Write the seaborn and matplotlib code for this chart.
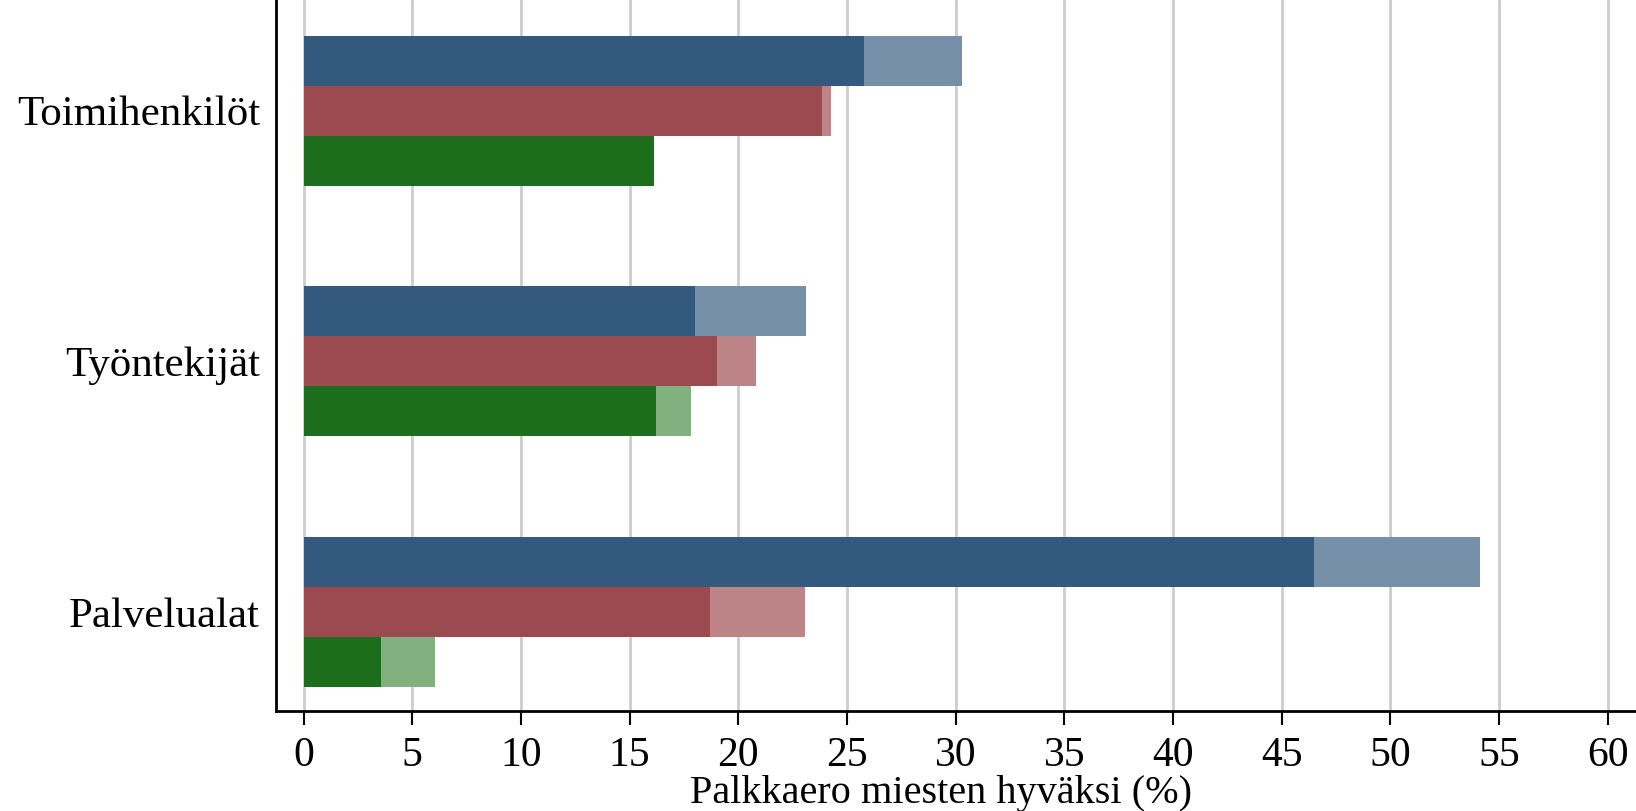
import matplotlib
matplotlib.use("Agg")
import matplotlib.pyplot as plt
import seaborn as sns
import pandas as pd

categories = ["Toimihenkilöt", "Työntekijät", "Palvelualat"]
series = ["Sarja 1", "Sarja 2", "Sarja 3"]
# dark part (first value) per category, per series
dark_s1 = [25.8, 18.0, 46.5]
dark_s2 = [23.85, 19.0, 18.7]
dark_s3 = [16.1, 16.2, 3.55]
# total length including lighter extension
total_s1 = [30.3, 23.1, 54.1]
total_s2 = [24.25, 20.8, 23.05]
total_s3 = [16.1, 17.8, 6.05]
xticks = list(range(0, 65, 5))
xlabel = "Palkkaero miesten hyväksi (%)"

dark_colors = ["#335a7e", "#9b4b50", "#1c6e1c"]
light_colors = ["#7790aa", "#bc8487", "#82b07f"]

rows = []
for s, d, t in zip(series, [dark_s1, dark_s2, dark_s3], [total_s1, total_s2, total_s3]):
    for c, dv, tv in zip(categories, d, t):
        rows.append({"cat": c, "series": s, "dark": dv, "total": tv})
df = pd.DataFrame(rows)

sns.set_theme(style="white")
plt.rcParams["font.family"] = ["Liberation Serif", "DejaVu Serif"]
plt.rcParams["text.color"] = "black"
plt.rcParams["xtick.color"] = "black"
plt.rcParams["ytick.color"] = "black"
plt.rcParams["axes.labelcolor"] = "black"

fig = plt.figure(figsize=(16.36, 8.11), dpi=100)
ax = fig.add_axes([0.169, 0.1233, 0.831, 0.8767])

sns.barplot(data=df, y="cat", x="total", hue="series", order=categories,
            hue_order=series, palette=light_colors, width=0.6, dodge=True,
            saturation=1, errorbar=None, legend=False, ax=ax, linewidth=0)
sns.barplot(data=df, y="cat", x="dark", hue="series", order=categories,
            hue_order=series, palette=dark_colors, width=0.6, dodge=True,
            saturation=1, errorbar=None, legend=False, ax=ax, linewidth=0)

ax.set_xlim(-1.25, 61.3)
ax.set_ylim(2.396, -0.442)
ax.set_xticks(xticks)
ax.set_xticklabels([str(v) for v in xticks], fontsize=30)
ax.tick_params(axis="x", length=10, width=1.5, color="black", pad=8, direction="out", bottom=True)
ax.tick_params(axis="y", length=0, pad=12, labelsize=31)
ax.set_ylabel("")
ax.set_xlabel(xlabel, fontsize=29)
ax.xaxis.set_label_coords(0.489, -0.090)
ax.xaxis.grid(True, color="#cccccc", linewidth=2)
ax.yaxis.grid(False)
ax.set_axisbelow(True)
for sp in ["top", "right"]:
    ax.spines[sp].set_visible(False)
for sp in ["left", "bottom"]:
    ax.spines[sp].set_visible(True)
    ax.spines[sp].set_color("black")
    ax.spines[sp].set_linewidth(2)

fig.savefig("out.png", dpi=100)
